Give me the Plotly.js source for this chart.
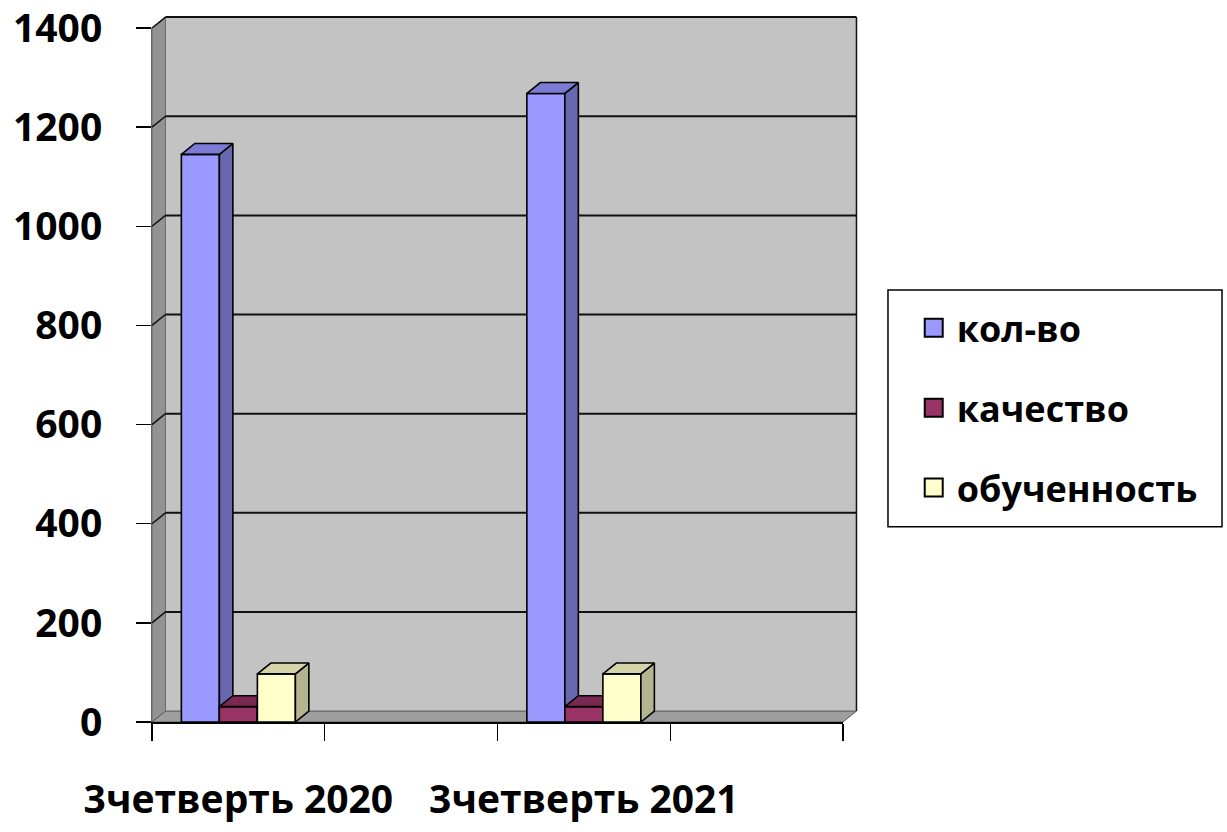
<!DOCTYPE html>
<html>
<head>
<meta charset="utf-8">
<script src="https://cdn.plot.ly/plotly-3.0.1.min.js"></script>
<style>
  html, body { margin: 0; padding: 0; background: #ffffff; }
  #chart { width: 1227px; height: 832px; }
</style>
</head>
<body>
<div id="chart"></div>
<script>
// ---------------- data ----------------
const categories = ['3четверть 2020', '', '3четверть 2021', ''];
const seriesNames = ['кол-во', 'качество', 'обученность'];
const kolvo       = [1145, null, 1268, null];
const kachestvo   = [31,   null, 31,   null];
const obuchennost = [97,   null, 97,   null];
const yTickVals   = [0, 200, 400, 600, 800, 1000, 1200, 1400];

// ---------------- styles ----------------
const FONT = '"Open Sans", "Noto Sans", "DejaVu Sans", sans-serif';
const frontColors = ['#9999ff', '#993366', '#ffffcc'];
const topColors   = ['#7b7bd6', '#7a2952', '#d4d4aa'];
const sideColors  = ['#6868b0', '#66223f', '#b4b48e'];
const BAR_W = 0.22;
const GROUP_START = -0.33;
const DX = 0.078;   // depth offset, x units
const DY = 22;      // depth offset, y units
const Y_MAX = 1400;
const X_MIN = -0.5, X_MAX = 3.5;

const seriesValues = [kolvo, kachestvo, obuchennost];
const xIdx = categories.map((_, i) => i);

const traces = [];
seriesValues.forEach((vals, s) => {
  const axX = s === 0 ? 'x' : 'x' + (s + 1);
  const axY = s === 0 ? 'y' : 'y' + (s + 1);
  const off = GROUP_START + s * BAR_W;
  traces.push({
    type: 'bar', x: xIdx, y: vals, width: BAR_W, offset: off,
    xaxis: axX, yaxis: axY, showlegend: false, hoverinfo: 'skip',
    marker: { color: frontColors[s], line: { color: '#000', width: 1.6 } }
  });
  const sx = [], sy = [], tx = [], ty = [];
  xIdx.forEach((c, i) => {
    const v = vals[i];
    if (v === null || v === undefined) return;
    const xl = c + off, xr = c + off + BAR_W;
    sx.push(xr, xr + DX, xr + DX, xr, xr, null);
    sy.push(0, DY, v + DY, v, 0, null);
    tx.push(xl, xr, xr + DX, xl + DX, xl, null);
    ty.push(v, v, v + DY, v + DY, v, null);
  });
  traces.push({
    type: 'scatter', mode: 'lines', x: sx, y: sy, fill: 'toself',
    fillcolor: sideColors[s], line: { color: '#000', width: 1.6 },
    xaxis: axX, yaxis: axY, showlegend: false, hoverinfo: 'skip', cliponaxis: false
  });
  traces.push({
    type: 'scatter', mode: 'lines', x: tx, y: ty, fill: 'toself',
    fillcolor: topColors[s], line: { color: '#000', width: 1.6 },
    xaxis: axX, yaxis: axY, showlegend: false, hoverinfo: 'skip', cliponaxis: false
  });
});

// legend entries
seriesNames.forEach((name, s) => {
  traces.push({
    type: 'scatter', mode: 'markers', x: [null], y: [null], name: name,
    legendgroup: 'g' + s,
    marker: { symbol: 'square', size: 16, color: frontColors[s], line: { color: '#000', width: 2 } }
  });
});

// ---------------- walls (paper coords) ----------------
const dxp = DX / (X_MAX - X_MIN);
const dyp = DY / Y_MAX;
const shapes = [];
shapes.push({ type: 'rect', xref: 'paper', yref: 'paper', x0: dxp, x1: 1 + dxp, y0: dyp, y1: 1 + dyp,
  fillcolor: '#c3c3c3', line: { width: 0 }, layer: 'below' });
shapes.push({ type: 'path', xref: 'paper', yref: 'paper',
  path: `M0,0 L0,1 L${dxp},${1 + dyp} L${dxp},${dyp} Z`,
  fillcolor: '#939393', line: { color: '#6a6a6a', width: 1 }, layer: 'below' });
shapes.push({ type: 'path', xref: 'paper', yref: 'paper',
  path: `M0,0 L1,0 L${1 + dxp},${dyp} L${dxp},${dyp} Z`,
  fillcolor: '#9e9e9e', line: { color: '#555', width: 1 }, layer: 'below' });
shapes.push({ type: 'line', xref: 'paper', yref: 'paper', x0: 1 + dxp, x1: 1 + dxp, y0: dyp, y1: 1 + dyp,
  line: { color: '#111', width: 1.5 }, layer: 'below' });
yTickVals.forEach(v => {
  if (v <= 0) return;
  const yp = v / Y_MAX;
  shapes.push({ type: 'line', xref: 'paper', yref: 'paper', x0: dxp, x1: 1 + dxp, y0: yp + dyp, y1: yp + dyp,
    line: { color: '#111', width: 2 }, layer: 'below' });
  shapes.push({ type: 'line', xref: 'paper', yref: 'paper', x0: 0, x1: dxp, y0: yp, y1: yp + dyp,
    line: { color: '#111', width: 1.5 }, layer: 'below' });
});
// legend box
shapes.push({ type: 'rect', xref: 'paper', yref: 'paper', x0: 1.0651, x1: 1.5485, y0: 0.2814, y1: 0.6225,
  fillcolor: '#ffffff', line: { color: '#000', width: 1.5 }, layer: 'below' });

const labelIdx = xIdx.filter(i => categories[i] !== '');
const boundaries = [X_MIN].concat(xIdx.map(i => i + 0.5));

const layout = {
  width: 1227, height: 832,
  margin: { l: 152, r: 384, t: 28, b: 110 },
  paper_bgcolor: '#ffffff', plot_bgcolor: 'rgba(0,0,0,0)',
  font: { family: FONT, color: '#000' },
  showlegend: true,
  legend: {
    x: 1.098, y: 0.611, xanchor: 'left', yanchor: 'top',
    font: { family: FONT, size: 36, color: '#000', weight: 'bold' },
    bgcolor: 'rgba(0,0,0,0)', borderwidth: 0, tracegroupgap: 30,
    itemwidth: 36
  },
  xaxis: {
    range: [X_MIN, X_MAX], fixedrange: true,
    tickmode: 'array', tickvals: labelIdx, ticktext: labelIdx.map(i => categories[i]),
    ticks: '', showgrid: false, zeroline: false,
    showline: true, linecolor: '#000', linewidth: 2,
    tickfont: { family: FONT, size: 39, color: '#000', weight: 'bold' },
    ticklabelstandoff: 42, ticklabeloverflow: 'allow',
    minor: { tickmode: 'array', tickvals: boundaries, ticks: 'outside', ticklen: 17,
             tickcolor: '#000', tickwidth: 1.2, showgrid: false }
  },
  yaxis: {
    range: [0, Y_MAX], fixedrange: true,
    tickmode: 'array', tickvals: yTickVals,
    ticks: 'outside', ticklen: 15, tickwidth: 1.5, tickcolor: '#000',
    showgrid: false, zeroline: false,
    showline: true, linecolor: '#666', linewidth: 1,
    tickfont: { family: FONT, size: 39, color: '#000', weight: 'bold' },
    ticklabelstandoff: 26, ticklabeloverflow: 'allow'
  },
  xaxis2: { overlaying: 'x', anchor: 'y2', range: [X_MIN, X_MAX], visible: false, fixedrange: true },
  yaxis2: { overlaying: 'y', anchor: 'x2', range: [0, Y_MAX], visible: false, fixedrange: true },
  xaxis3: { overlaying: 'x', anchor: 'y3', range: [X_MIN, X_MAX], visible: false, fixedrange: true },
  yaxis3: { overlaying: 'y', anchor: 'x3', range: [0, Y_MAX], visible: false, fixedrange: true },
  shapes: shapes
};

function enlargeSwatches(gd) {
  gd.querySelectorAll('.legendpoints path').forEach(p => p.setAttribute('d', 'M9,9H-9V-9H9Z'));
}
const gdiv = document.getElementById('chart');
Plotly.newPlot(gdiv, traces, layout, { displayModeBar: false, staticPlot: true }).then(gd => {
  enlargeSwatches(gd);
  gd.on('plotly_afterplot', () => enlargeSwatches(gd));
  setTimeout(() => enlargeSwatches(gd), 50);
});
</script>
</body>
</html>
